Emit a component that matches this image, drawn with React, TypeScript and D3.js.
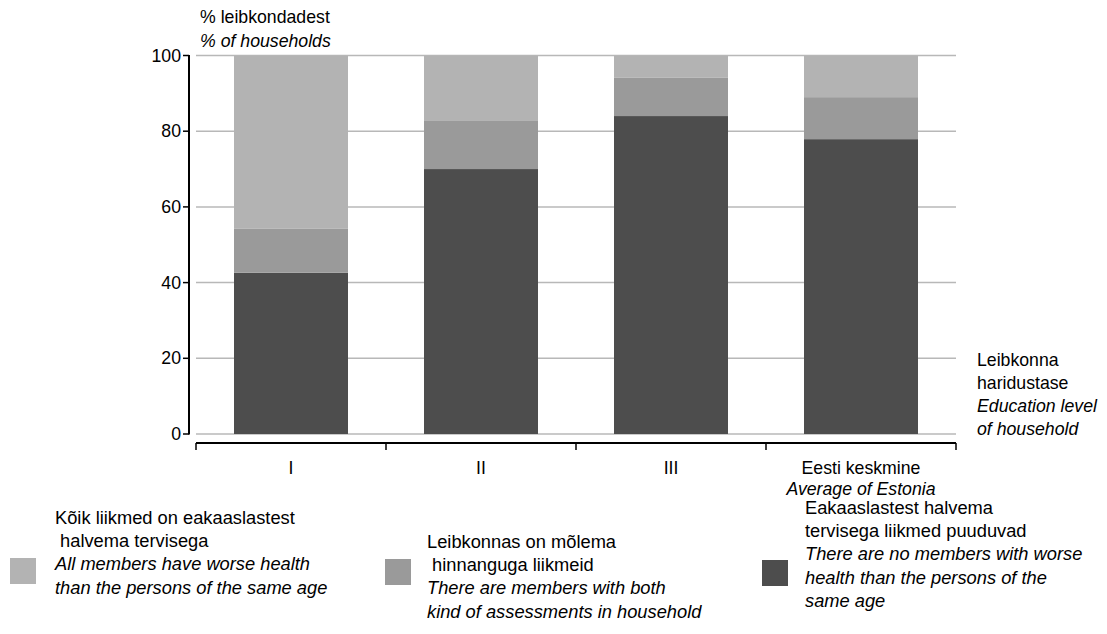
import React from "react";
import * as d3 from "d3";

const categories = ["I", "II", "III", "Eesti keskmine"];
const categoriesEn = ["", "", "", "Average of Estonia"];
const noneWorse = [42.6, 70.0, 84.0, 77.9];
const bothKinds = [11.6, 12.7, 10.1, 11.1];
const allWorse = [45.8, 17.3, 5.9, 11.0];
const yTicks = [0, 20, 40, 60, 80, 100];
const seriesKeys = ["noneWorse", "bothKinds", "allWorse"];
const seriesColors = ["#4d4d4d", "#9a9a9a", "#b3b3b3"];

const W = 1107;
const H = 634;
const FONT = "'Liberation Sans', Arial, Helvetica, sans-serif";
const FS = 17.7;
const LFS = 18.3;

export default function App() {
  const x = d3
    .scaleBand<string>()
    .domain(categories)
    .range([196, 956])
    .paddingInner(0.4)
    .paddingOuter(0.2);
  const y = d3.scaleLinear().domain([0, 100]).range([434, 55.5]);

  const rows = categories.map((c, i) => ({
    cat: c,
    noneWorse: noneWorse[i],
    bothKinds: bothKinds[i],
    allWorse: allWorse[i],
  }));
  const stacked = d3.stack<any>().keys(seriesKeys)(rows);

  const step = x.step();
  const boundaries = d3.range(categories.length + 1).map((i) => 196 + i * step);

  const legend = [
    {
      color: seriesColors[2],
      sw: [10, 558],
      tx: 55,
      ty: 524,
      lines: [
        ["Kõik liikmed on eakaaslastest", false],
        [" halvema tervisega", false],
        ["All members have worse health", true],
        ["than the persons of the same age", true],
      ],
    },
    {
      color: seriesColors[1],
      sw: [385, 559],
      tx: 427,
      ty: 548,
      lines: [
        ["Leibkonnas on mõlema", false],
        [" hinnanguga liikmeid", false],
        ["There are members with both", true],
        ["kind of assessments in household", true],
      ],
    },
    {
      color: seriesColors[0],
      sw: [762, 560],
      tx: 805,
      ty: 514,
      lines: [
        ["Eakaaslastest halvema", false],
        ["tervisega liikmed puuduvad", false],
        ["There are no members with worse", true],
        ["health than the persons of the", true],
        ["same age", true],
      ],
    },
  ];

  return (
    <svg
      width={W}
      height={H}
      style={{ position: "absolute", left: 0, top: 0, background: "#fff" }}
      fontFamily={FONT}
      fontSize={FS}
    >
      {/* gridlines */}
      {yTicks.map((t) => (
        <line
          key={"g" + t}
          x1={196}
          x2={956}
          y1={y(t)}
          y2={y(t)}
          stroke="#b8b8b8"
          strokeWidth={1.5}
        />
      ))}
      {/* bars */}
      {stacked.map((s, si) =>
        s.map((d, i) => (
          <rect
            key={si + "-" + i}
            x={x(categories[i])}
            width={x.bandwidth()}
            y={y(d[1])}
            height={y(d[0]) - y(d[1])}
            fill={seriesColors[si]}
          />
        ))
      )}
      {/* y axis */}
      <line x1={189} x2={189} y1={y(100) - 0.5} y2={y(0) + 0.5} stroke="#000" strokeWidth={2} />
      {yTicks.map((t) => (
        <g key={"t" + t}>
          <line x1={183} x2={189} y1={y(t)} y2={y(t)} stroke="#000" strokeWidth={1.5} />
          <text x={181} y={y(t)} dy="0.35em" textAnchor="end" fill="#000">
            {t}
          </text>
        </g>
      ))}
      <text x={200} y={23} fill="#000">% leibkondadest</text>
      <text x={200} y={46.5} fill="#000" fontStyle="italic">% of households</text>
      {/* x axis */}
      <line x1={196} x2={956} y1={443} y2={443} stroke="#000" strokeWidth={2} />
      {boundaries.map((b, i) => (
        <line key={"b" + i} x1={b} x2={b} y1={443} y2={450} stroke="#000" strokeWidth={1.5} />
      ))}
      {categories.map((c, i) => (
        <g key={"c" + i}>
          <text x={(x(c) as number) + x.bandwidth() / 2} y={474} textAnchor="middle" fill="#000">
            {c}
          </text>
          {categoriesEn[i] && (
            <text
              x={(x(c) as number) + x.bandwidth() / 2}
              y={495}
              textAnchor="middle"
              fill="#000"
              fontStyle="italic"
            >
              {categoriesEn[i]}
            </text>
          )}
        </g>
      ))}
      {/* x axis title */}
      <text x={977} y={366} fill="#000">Leibkonna</text>
      <text x={977} y={389} fill="#000">haridustase</text>
      <text x={977} y={412} fill="#000" fontStyle="italic">Education level</text>
      <text x={977} y={435} fill="#000" fontStyle="italic">of household</text>
      {/* legend */}
      {legend.map((l, li) => (
        <g key={"l" + li}>
          <rect x={l.sw[0]} y={l.sw[1]} width={26} height={26} fill={l.color} />
          {l.lines.map((ln, k) => (
            <text
              key={k}
              x={l.tx}
              y={l.ty + k * 23.2}
              fill="#000"
              fontSize={LFS}
              fontStyle={ln[1] ? "italic" : "normal"}
              style={{ whiteSpace: "pre" }}
            >
              {ln[0] as string}
            </text>
          ))}
        </g>
      ))}
    </svg>
  );
}
